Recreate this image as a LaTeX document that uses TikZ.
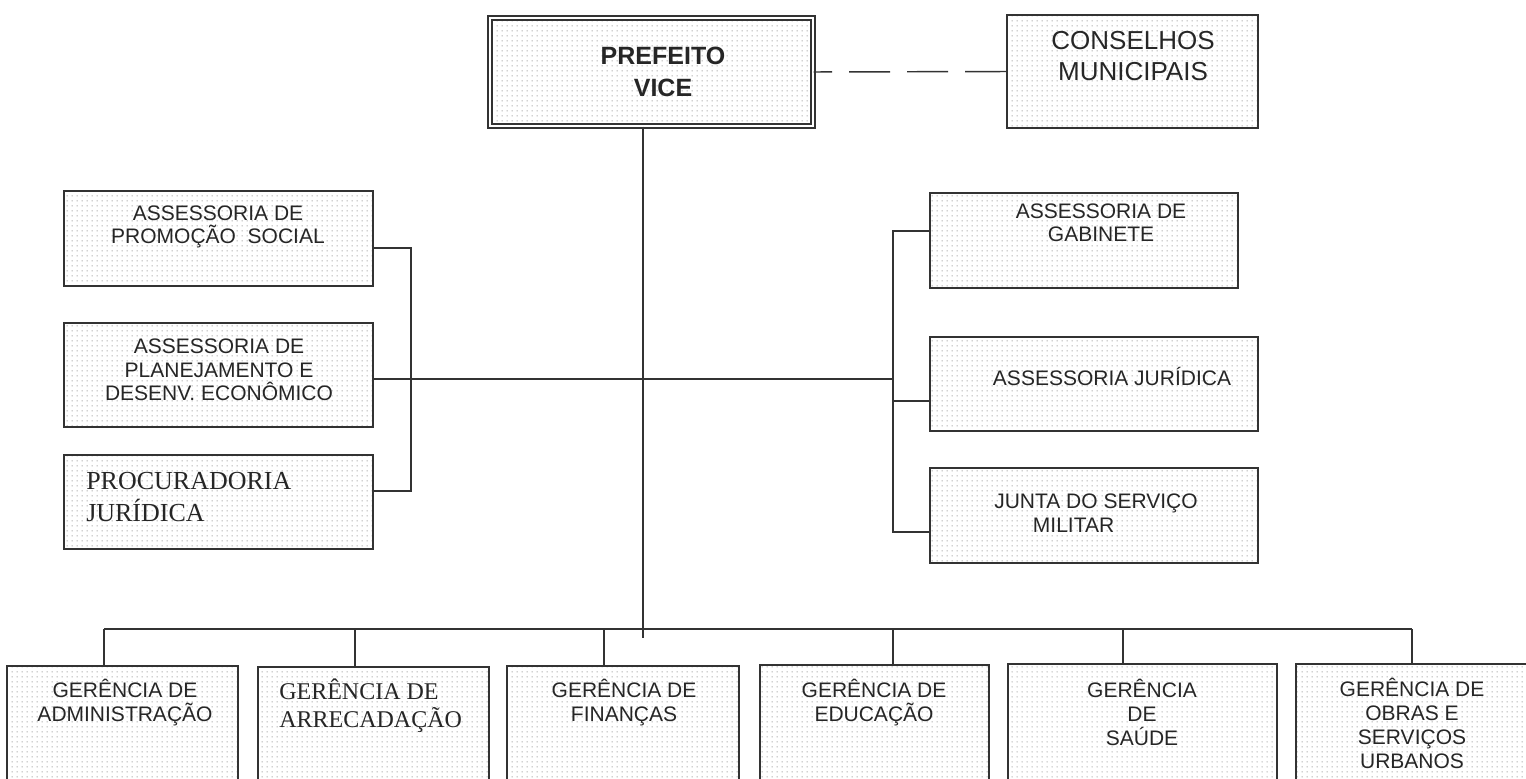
\documentclass[tikz,border=0pt]{standalone}
\usepackage{fontspec}
\setmainfont{Liberation Sans}
\newfontfamily\romanfont{Liberation Serif}
\usepackage{tikz}
\usetikzlibrary{patterns,fit}

\pgfdeclarepatternformonly{pontos}{\pgfpointorigin}{\pgfpoint{3.75pt}{3.75pt}}{\pgfpoint{3.75pt}{3.75pt}}{\pgfpathcircle{\pgfpoint{1.875pt}{1.875pt}}{0.5pt}\pgfusepath{fill}}

\tikzset{
  caixa/.style={draw=black!80, line width=1.3pt, pattern=pontos, pattern color=black!50, inner sep=0pt},
  caixadupla/.style={caixa, line width=1.1pt, double=white, double distance=2.2pt},
  rotulo/.style={align=center, inner sep=0pt, text=black!85, font=\fontsize{15.75}{17.6}\selectfont},
  rotulobaixo/.style={rotulo, font=\fontsize{15.75}{18}\selectfont},
  ligacao/.style={draw=black!80, line width=1.1pt}
}

\begin{document}
\begin{tikzpicture}[x=0.75pt,y=0.75pt,yscale=-1,xscale=1]

\useasboundingbox (0,0) rectangle (1526,778);
\clip (0,0) rectangle (1526,778);


\node[caixadupla, fit={(490,18) (813,126)}] (prefeito) {};
\node[rotulo, font=\fontsize{18.75}{24}\selectfont\bfseries] (prefeitotxt) at (663,72) {PREFEITO\\VICE};

\node[caixa, fit={(1007,15) (1258,128)}] (conselhos) {};
\node[rotulo, font=\fontsize{19.5}{23}\selectfont] (conselhostxt) at (1133,56) {CONSELHOS\\MUNICIPAIS};


\node[caixa, fit={(64,191) (373,286)}] (promocao) {};
\node[rotulo] (promocaotxt) at (218,227) {ASSESSORIA DE\\PROMOÇÃO\ \ SOCIAL};

\node[caixa, fit={(64,323) (373,427)}] (planejamento) {};
\node[rotulo] (planejamentotxt) at (219,370) {ASSESSORIA DE\\PLANEJAMENTO E\\DESENV. ECONÔMICO};

\node[caixa, fit={(64,455) (373,549)}] (procuradoria) {};
\node[rotulo, align=left, anchor=west, font=\romanfont\fontsize{19.5}{24}\selectfont] (procuradoriatxt) at (86,497) {PROCURADORIA\\JURÍDICA};


\node[caixa, fit={(930,193) (1238,288)}] (gabinete) {};
\node[rotulo] (gabinetetxt) at (1101,223) {ASSESSORIA DE\\GABINETE};

\node[caixa, fit={(930,337) (1258,431)}] (juridica) {};
\node[rotulo] (juridicatxt) at (1112,376) {ASSESSORIA JURÍDICA};

\node[caixa, fit={(930,468) (1258,563)}] (junta) {};
\node[rotulo, align=left, anchor=west] (juntatxt) at (994,513) {JUNTA DO SERVIÇO\\\hspace*{29pt}MILITAR};


\node[caixa, fit={(7,666) (238,800)}] (administracao) {};
\node[rotulobaixo] (administracaotxt) at (125,703) {GERÊNCIA DE\\ADMINISTRAÇÃO};

\node[caixa, fit={(258,667) (489,800)}] (arrecadacao) {};
\node[rotulobaixo, align=left, anchor=west, font=\romanfont\fontsize{18}{21}\selectfont] (arrecadacaotxt) at (279,706) {GERÊNCIA DE\\ARRECADAÇÃO};

\node[caixa, fit={(507,666) (739,800)}] (financas) {};
\node[rotulobaixo] (financastxt) at (624,703) {GERÊNCIA DE\\FINANÇAS};

\node[caixa, fit={(760,665) (989,800)}] (educacao) {};
\node[rotulobaixo] (educacaotxt) at (874,703) {GERÊNCIA DE\\EDUCAÇÃO};

\node[caixa, fit={(1008,664) (1277,800)}] (saude) {};
\node[rotulobaixo] (saudetxt) at (1142,712) {GERÊNCIA\\DE\\SAÚDE};

\node[caixa, fit={(1296,664) (1530,800)}] (obras) {};
\node[rotulobaixo] (obrastxt) at (1412,723) {GERÊNCIA DE\\OBRAS E\\SERVIÇOS\\URBANOS};


\coordinate (tronco) at (643,638);
\coordinate (esqA) at (411,248);
\coordinate (esqB) at (411,491);
\coordinate (dirA) at (893,231);
\coordinate (dirM) at (893,379);
\coordinate (dirB) at (893,401);
\coordinate (dirC) at (893,532);
\coordinate (gA) at (104,629);
\coordinate (gB) at (355,629);
\coordinate (gC) at (604,629);
\coordinate (gD) at (893,629);
\coordinate (gE) at (1123,629);
\coordinate (gF) at (1412,629);


\draw[ligacao, dash pattern=on 30.75pt off 12.75pt] (conselhos.west) -- (prefeito.east);

\draw[ligacao] (prefeito.south -| tronco) -- (tronco);

\draw[ligacao] (promocao.east |- esqA) -- (esqA) -- (esqB) -- (procuradoria.east |- esqB);

\draw[ligacao] (planejamento.east |- dirM) -- (dirM);

\draw[ligacao] (gabinete.west |- dirA) -- (dirA) -- (dirC) -- (junta.west |- dirC);

\draw[ligacao] (dirB) -- (juridica.west |- dirB);

\draw[ligacao] (gA) -- (gF);

\draw[ligacao] (gA) -- (administracao.north -| gA);

\draw[ligacao] (gB) -- (arrecadacao.north -| gB);

\draw[ligacao] (gC) -- (financas.north -| gC);

\draw[ligacao] (gD) -- (educacao.north -| gD);

\draw[ligacao] (gE) -- (saude.north -| gE);

\draw[ligacao] (gF) -- (obras.north -| gF);


\end{tikzpicture}
\end{document}
